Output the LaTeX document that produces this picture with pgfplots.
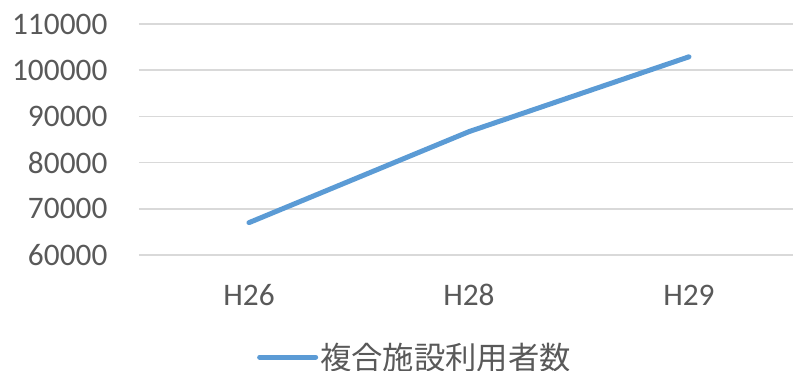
\documentclass[border=0pt]{standalone}
\usepackage{pgfplots}
\pgfplotsset{compat=1.18}
\usepackage{fontspec}
\setmainfont{Carlito}
\newfontfamily\cjk{Noto Sans CJK JP}
\definecolor{txt}{HTML}{595959}
\definecolor{gridc}{HTML}{D9D9D9}
\definecolor{lineblue}{HTML}{5B9BD5}
\begin{document}
\begin{tikzpicture}
\path[use as bounding box] (0,0) rectangle (594.75pt,278.25pt);
\begin{axis}[
  at={(104.25pt,87pt)}, anchor=south west,
  scale only axis,
  width=490.5pt, height=173.25pt,
  xmin=-0.5, xmax=2.473,
  ymin=60000, ymax=110000,
  scaled y ticks=false,
  ytick={60000,70000,80000,90000,100000,110000},
  yticklabels={60000,70000,80000,90000,100000,110000},
  xtick={0,1,2},
  xticklabels={H26,H28,H29},
  axis line style={draw=none},
  major tick length=0pt,
  ymajorgrids,
  grid style={gridc, line width=1.1pt},
  tick label style={font=\fontsize{23.5}{28}\selectfont, text=txt},
  yticklabel style={anchor=east, inner sep=0pt, xshift=-23.5pt},
  xticklabel style={anchor=base, inner sep=0pt, yshift=-38.25pt},
  clip=false,
  legend style={draw=none, fill=none, at={(0.422,-0.442)}, anchor=center,
    font=\fontsize{23.5}{28}\selectfont\cjk, text=txt, inner sep=0pt,
    nodes={inner sep=1.5pt}},
  legend cell align=left,
  legend image code/.code={\draw[#1, line cap=round] (0pt,0pt) -- (42pt,0pt);},
]
\addplot[lineblue, line width=3.75pt, line cap=round, line join=round] coordinates {
  (0,67000) (1,86700) (2,102900)
};
\addlegendentry{複合施設利用者数}
\end{axis}
\end{tikzpicture}
\end{document}
